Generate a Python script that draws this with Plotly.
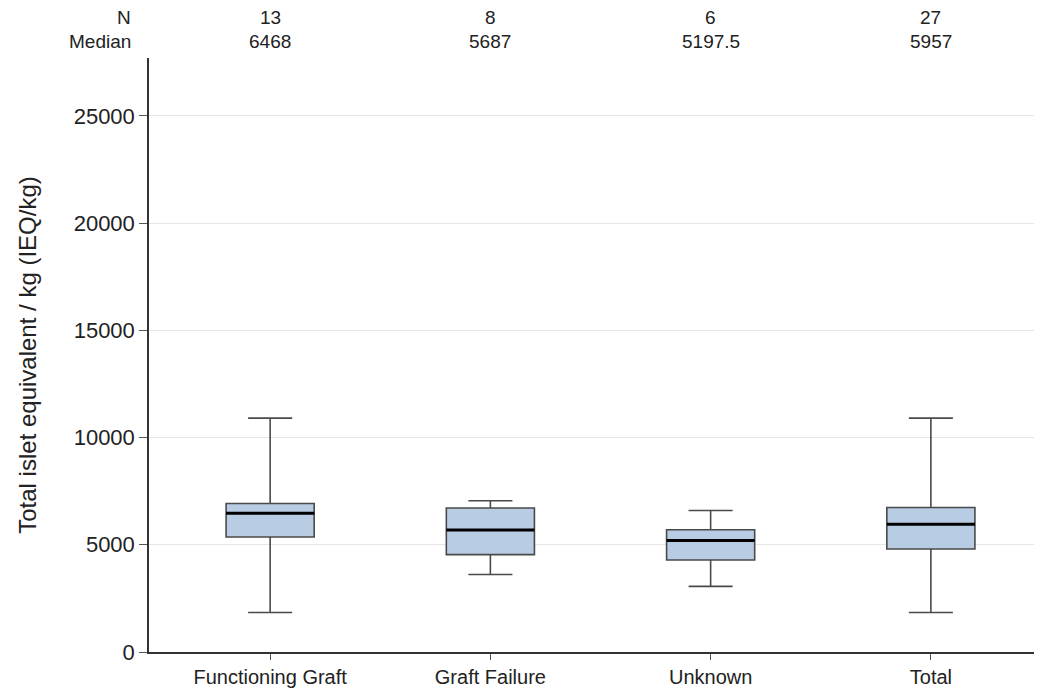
import plotly.graph_objects as go

categories = ["Functioning Graft", "Graft Failure", "Unknown", "Total"]
n_values = [13, 8, 6, 27]
median_labels = ["6468", "5687", "5197.5", "5957"]
medians = [6468, 5687, 5197.5, 5957]
q1 = [5360, 4540, 4290, 4800]
q3 = [6925, 6715, 5700, 6740]
lower_whisker = [1845, 3615, 3060, 1845]
upper_whisker = [10905, 7050, 6600, 10905]
y_ticks = [0, 5000, 10000, 15000, 20000, 25000]

FONT = "Liberation Sans, Arial, sans-serif"
TXT = "#222"

fig = go.Figure()
fig.add_trace(go.Box(
    x=categories, q1=q1, median=medians, q3=q3,
    lowerfence=lower_whisker, upperfence=upper_whisker,
    fillcolor="#b8cce4", line=dict(color="#4a4a4a", width=1.6),
    width=0.4, whiskerwidth=0.5, boxpoints=False, showlegend=False,
    hoverinfo="skip",
))
# thick black median line drawn as a flat box at the median value
fig.add_trace(go.Box(
    x=categories, q1=medians, median=medians, q3=medians,
    lowerfence=medians, upperfence=medians,
    fillcolor="rgba(0,0,0,0)", line=dict(color="#000000", width=3),
    width=0.4, whiskerwidth=0, boxpoints=False, showlegend=False,
    hoverinfo="skip",
))

# page body has an 8px default margin; pixel rows below are page rows
OFF = 8
top, bottom = 58 - OFF, 652 - OFF
H = 695 - OFF
W = 1042 - OFF


def prow(row):
    return (bottom - (row - OFF)) / (bottom - top)


annotations = []
for cat, n, med in zip(categories, n_values, median_labels):
    annotations.append(dict(x=cat, y=prow(17), xref="x", yref="paper", text=str(n),
                            showarrow=False, xanchor="center", yanchor="middle",
                            font=dict(family=FONT, size=19, color=TXT)))
    annotations.append(dict(x=cat, y=prow(42), xref="x", yref="paper", text=med,
                            showarrow=False, xanchor="center", yanchor="middle",
                            font=dict(family=FONT, size=19, color=TXT)))
for label, row in (("N", 17), ("Median", 42)):
    annotations.append(dict(x=-0.018, y=prow(row), xref="paper",
                            yref="paper", text=label, showarrow=False,
                            xanchor="right", yanchor="middle",
                            font=dict(family=FONT, size=19, color=TXT)))

fig.update_layout(
    width=W, height=H,
    margin=dict(l=149 - OFF, r=1, t=top, b=H - bottom),
    paper_bgcolor="white", plot_bgcolor="white",
    boxmode="overlay",
    font=dict(family=FONT, color=TXT),
    annotations=annotations,
    xaxis=dict(
        type="category", range=[-0.55, 3.5],
        showline=True, linecolor="#333", linewidth=1.5,
        ticks="outside", ticklen=6, tickcolor="#555", tickwidth=1,
        tickfont=dict(family=FONT, size=20, color=TXT),
        showgrid=False, zeroline=False,
    ),
    yaxis=dict(
        range=[0, 27700], tickvals=y_ticks, tickformat="d",
        showline=True, linecolor="#333", linewidth=1.5,
        ticks="outside", ticklen=8, tickcolor="#555", tickwidth=1,
        tickfont=dict(family=FONT, size=22, color=TXT),
        showgrid=True, gridcolor="#e6e6e6", gridwidth=1, zeroline=False,
        title=dict(text="Total islet equivalent / kg (IEQ/kg)",
                   font=dict(family=FONT, size=24, color=TXT), standoff=30),
    ),
)

fig.write_html("out.html")
